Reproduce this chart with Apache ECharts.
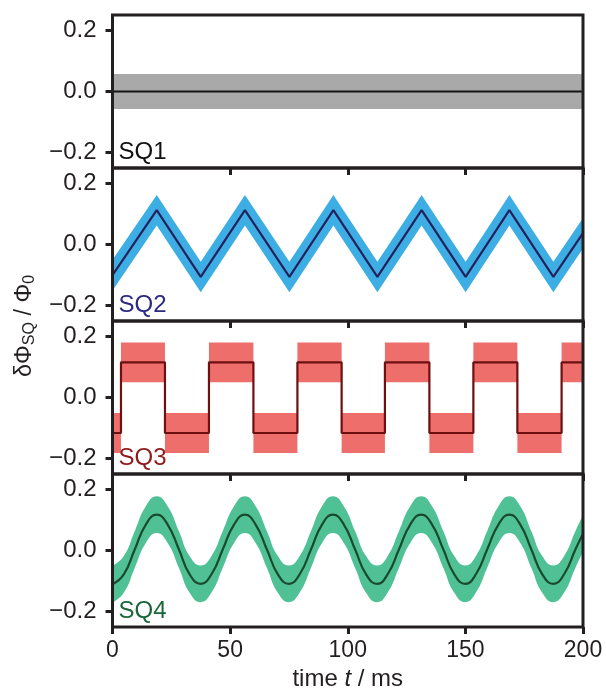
<!DOCTYPE html>
<html><head><meta charset="utf-8">
<script src="https://cdn.jsdelivr.net/npm/echarts@6/dist/echarts.min.js"></script>
<style>html,body{margin:0;padding:0;background:#fff}#c{width:606px;height:690px}</style>
</head><body><div id="c"></div>
<script>
// ---- data ----
const xTicks = [0, 50, 100, 150, 200];
const yTicks = [-0.2, 0, 0.2];
const panelLabels = ['SQ1', 'SQ2', 'SQ3', 'SQ4'];

// SQ1: flat signal
const sq1T = [0, 200];
const sq1V = [0, 0];

// SQ2: triangle wave (vertices)
const sq2T = [0, 18.8, 37.5, 56.3, 75.2, 93.9, 112.6, 131.4, 150.1, 168.7, 187.4, 200];
const sq2V = [-0.100, 0.112, -0.106, 0.112, -0.106, 0.112, -0.106, 0.112, -0.106, 0.112, -0.106, 0.037];

// SQ3: square wave (edges)
const sq3T = [0, 3.6, 3.6, 22.3, 22.3, 41.0, 41.0, 59.9, 59.9, 78.6, 78.6, 97.4, 97.4, 115.8, 115.8, 134.7, 134.7, 153.4, 153.4, 172.1, 172.1, 190.9, 190.9, 200];
const sq3V = [-0.116, -0.116, 0.115, 0.115, -0.116, -0.116, 0.115, 0.115, -0.116, -0.116, 0.115, 0.115, -0.116, -0.116, 0.115, 0.115, -0.116, -0.116, 0.115, 0.115, -0.116, -0.116, 0.115, 0.115];

// SQ4: sine-like wave (read every ~1/8 period)
const sq4T = [0, 4.8, 9.5, 14.1, 18.8, 23.5, 28.2, 32.8, 37.5, 42.2, 46.9, 51.6, 56.3, 60.9, 65.6, 70.3, 75.0, 79.7, 84.4, 89.0, 93.7, 98.4, 103.1, 107.8, 112.5, 117.1, 121.8, 126.5, 131.2, 135.9, 140.6, 145.3, 150.0, 154.6, 159.3, 164.0, 168.7, 173.4, 178.0, 182.7, 187.4, 192.1, 196.8, 200];
const sq4V = [-0.110, -0.078, 0.004, 0.084, 0.117, 0.084, 0.004, -0.078, -0.109, -0.076, 0.004, 0.084, 0.117, 0.084, 0.004, -0.078, -0.109, -0.076, 0.004, 0.084, 0.117, 0.084, 0.004, -0.078, -0.109, -0.076, 0.004, 0.084, 0.117, 0.084, 0.004, -0.078, -0.109, -0.076, 0.004, 0.084, 0.117, 0.084, 0.004, -0.078, -0.109, -0.076, 0.004, 0.055];

// spread of the noisy raw signal around each line (half-width)
const noiseHalfWidth = [0.057, 0.05, 0.065, 0.06];

// ---- styling ----
const FONT = '"Liberation Sans", Arial, Helvetica, sans-serif';
const INK = '#231f20';
const bandColors = ['#a9a9a9', '#3daee3', '#ee6e6c', '#50c195'];
const lineColors = ['#151515', '#24215e', '#6e0f10', '#1a4a2e'];
const labelColors = ['#111111', '#2b2a80', '#8e1b1b', '#19683a'];
const smoothFlags = [0, 0, 0, 0.5];

const signals = [[sq1T, sq1V], [sq2T, sq2V], [sq3T, sq3V], [sq4T, sq4V]];

const LEFT = 112.5, RIGHT = 23, TOP = 15, H = 153;

// open-curve path segment through pixel points (optionally bezier-smoothed)
function curvePath(pts, s, startCmd) {
  let d = startCmd + pts[0][0] + ',' + pts[0][1];
  if (!s) {
    for (let k = 1; k < pts.length; k++) d += ' L' + pts[k][0] + ',' + pts[k][1];
    return d;
  }
  const n = pts.length;
  const cpIn = [], cpOut = [];
  for (let k = 0; k < n; k++) {
    if (k === 0 || k === n - 1) { cpIn.push(pts[k]); cpOut.push(pts[k]); continue; }
    const p = pts[k], a = pts[k - 1], b = pts[k + 1];
    const vx = b[0] - a[0], vy = b[1] - a[1];
    const d0 = Math.hypot(p[0] - a[0], p[1] - a[1]);
    const d1 = Math.hypot(b[0] - p[0], b[1] - p[1]);
    const sum = d0 + d1 || 1;
    cpIn.push([p[0] - vx * s * d0 / sum, p[1] - vy * s * d0 / sum]);
    cpOut.push([p[0] + vx * s * d1 / sum, p[1] + vy * s * d1 / sum]);
  }
  for (let k = 1; k < n; k++) {
    const c1 = cpOut[k - 1], c2 = cpIn[k], p = pts[k];
    d += ' C' + c1[0] + ',' + c1[1] + ' ' + c2[0] + ',' + c2[1] + ' ' + p[0] + ',' + p[1];
  }
  return d;
}

const grids = [], xAxes = [], yAxes = [], series = [], graphics = [];
signals.forEach(([T, V], i) => {
  grids.push({ left: LEFT, right: RIGHT, top: TOP + H * i, height: H, show: true, z: 10,
    borderColor: INK, borderWidth: 3, backgroundColor: 'transparent' });
  const last = i === signals.length - 1;
  xAxes.push({ type: 'value', gridIndex: i, min: 0, max: 200, interval: 50,
    axisLine: { show: false, onZero: false }, splitLine: { show: false },
    axisTick: { show: true, inside: false, length: 7, lineStyle: { color: INK, width: 3 } },
    axisLabel: { show: last, margin: 12, fontSize: 23, color: INK, fontFamily: FONT } });
  yAxes.push({ type: 'value', gridIndex: i, min: -0.25, max: 0.25,
    axisLine: { show: false, onZero: false }, splitLine: { show: false },
    axisTick: { show: true, inside: false, length: 7, customValues: yTicks, lineStyle: { color: INK, width: 3 } },
    axisLabel: { show: true, margin: 16, fontSize: 24, color: INK, fontFamily: FONT, customValues: yTicks,
      formatter: v => (Math.abs(v) < 1e-9 ? '0.0' : (v < 0 ? '\u2212' : '') + Math.abs(v).toFixed(1)) } });
  const w = noiseHalfWidth[i];
  const sm = smoothFlags[i];
  // noisy raw-signal band drawn as a filled path through the axes' scales
  series.push({ type: 'custom', xAxisIndex: i, yAxisIndex: i, silent: true, z: 1, clip: true,
    data: [[T[0], V[0]]],
    renderItem: (params, api) => {
      const up = T.map((t, k) => api.coord([t, V[k] + w]));
      const lo = T.map((t, k) => api.coord([t, V[k] - w])).reverse();
      const d = curvePath(up, sm, 'M') + ' ' + curvePath(lo, sm, 'L') + ' Z';
      return { type: 'path', shape: { pathData: d },
        style: { fill: bandColors[i], stroke: null } };
    } });
  series.push({ type: 'line', xAxisIndex: i, yAxisIndex: i,
    data: T.map((t, k) => [t, V[k]]), showSymbol: false, symbol: 'none', silent: true,
    smooth: sm || false, lineStyle: { color: lineColors[i], width: 2.2 }, z: 3 });
  graphics.push({ type: 'text', left: LEFT + 6, top: TOP + H * (i + 1) - 28, z: 10,
    style: { text: panelLabels[i], fontSize: 24, fontFamily: FONT, fill: labelColors[i] } });
});

graphics.push({ type: 'text', x: 25, y: 326, rotation: Math.PI / 2, z: 10,
  style: { text: 'δΦ{s|SQ} / Φ{s|0}', fontSize: 23.5, fontFamily: FONT, fill: INK,
    align: 'center', verticalAlign: 'middle', lineHeight: 26,
    rich: { s: { fontSize: 16, lineHeight: 15, verticalAlign: 'bottom', fill: INK, fontFamily: FONT } } } });
graphics.push({ type: 'text', x: LEFT + (606 - RIGHT - LEFT) / 2, y: 679, z: 10,
  style: { text: 'time {i|t} / ms', fontSize: 24, fontFamily: FONT, fill: INK,
    align: 'center', verticalAlign: 'middle',
    rich: { i: { fontStyle: 'italic', fontSize: 24, fontFamily: FONT, fill: INK } } } });

const chart = echarts.init(document.getElementById('c'), null, { renderer: 'canvas' });
chart.setOption({ animation: false, backgroundColor: '#fff', grid: grids, xAxis: xAxes, yAxis: yAxes,
  series: series, graphic: graphics });
</script></body></html>
